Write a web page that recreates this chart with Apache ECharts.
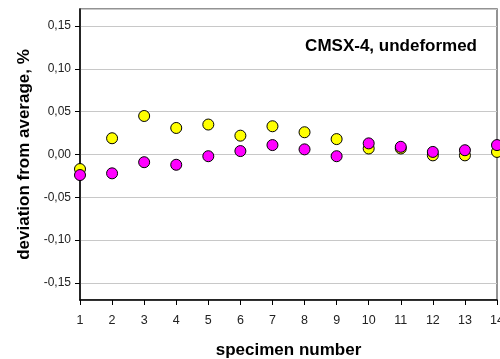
<!DOCTYPE html>
<html>
<head>
<meta charset="utf-8">
<script src="https://cdn.jsdelivr.net/npm/echarts@6/dist/echarts.min.js"></script>
<style>
  html, body { margin: 0; padding: 0; background: #fff; }
  #chart { width: 500px; height: 359px; }
</style>
</head>
<body>
<div id="chart"></div>
<script>
// Specimen numbers along the x axis
const specimens = [1, 2, 3, 4, 5, 6, 7, 8, 9, 10, 11, 12, 13, 14];
// Deviation from the average, % (two measurement sets)
const setYellow = [-0.017, 0.019, 0.045, 0.031, 0.035, 0.022, 0.033, 0.026, 0.018, 0.007, 0.007, -0.001, -0.001, 0.003];
const setMagenta = [-0.024, -0.022, -0.009, -0.012, -0.002, 0.004, 0.011, 0.006, -0.002, 0.013, 0.009, 0.003, 0.005, 0.011];

const titleText = 'CMSX-4, undeformed';
const xName = 'specimen number';
const yName = 'deviation from average, %';

const font = "'Liberation Sans', Arial, sans-serif";
const pairs = vals => specimens.map((s, i) => [s, vals[i]]);

const chart = echarts.init(document.getElementById('chart'), null, { renderer: 'canvas' });
chart.setOption({
  backgroundColor: '#ffffff',
  animation: false,
  textStyle: { fontFamily: font },
  title: {
    text: titleText,
    right: 23,
    top: 38,
    padding: 0,
    textStyle: { fontFamily: font, fontSize: 17, fontWeight: 'bold', color: '#000' }
  },
  grid: {
    left: 80, right: 3, top: 9, bottom: 59,
    outerBoundsMode: 'none',
    containLabel: false,
    show: true,
    borderColor: '#707070',
    borderWidth: 1.5,
    backgroundColor: '#ffffff'
  },
  xAxis: {
    type: 'value',
    min: 1,
    max: 14,
    interval: 1,
    name: xName,
    nameLocation: 'middle',
    nameGap: 42,
    nameTextStyle: { fontFamily: font, fontSize: 17, fontWeight: 'bold', color: '#000' },
    axisLine: { show: true, onZero: false, lineStyle: { color: '#000', width: 1.5 } },
    axisTick: { show: true, inside: false, length: 5, lineStyle: { color: '#000' } },
    axisLabel: { fontFamily: font, fontSize: 12.5, color: '#222', margin: 14 },
    splitLine: { show: false }
  },
  yAxis: {
    type: 'value',
    min: -0.17,
    max: 0.17,
    splitNumber: 7,
    name: yName,
    nameLocation: 'middle',
    nameRotate: 90,
    nameGap: 47,
    nameTextStyle: { fontFamily: font, fontSize: 17, fontWeight: 'bold', color: '#000' },
    axisLine: { show: true, onZero: false, lineStyle: { color: '#000', width: 1.5 } },
    axisTick: { show: true, inside: false, length: 5, lineStyle: { color: '#000' } },
    axisLabel: {
      fontFamily: font, fontSize: 12, color: '#222', margin: 9,
      showMinLabel: false, showMaxLabel: false,
      formatter: v => (Math.abs(v) > 0.165 ? '' : v.toFixed(2).replace('.', ','))
    },
    splitLine: { show: true, lineStyle: { color: '#c8c8c8', width: 1 } }
  },
  series: [
    {
      name: 'set A',
      type: 'scatter',
      data: pairs(setYellow),
      symbol: 'circle',
      symbolSize: 11,
      clip: false,
      itemStyle: { color: '#ffff00', borderColor: '#000', borderWidth: 1, opacity: 1 }
    },
    {
      name: 'set B',
      type: 'scatter',
      data: pairs(setMagenta),
      symbol: 'circle',
      symbolSize: 11,
      clip: false,
      itemStyle: { color: '#ff00ff', borderColor: '#000', borderWidth: 1, opacity: 1 }
    }
  ]
});
</script>
</body>
</html>
